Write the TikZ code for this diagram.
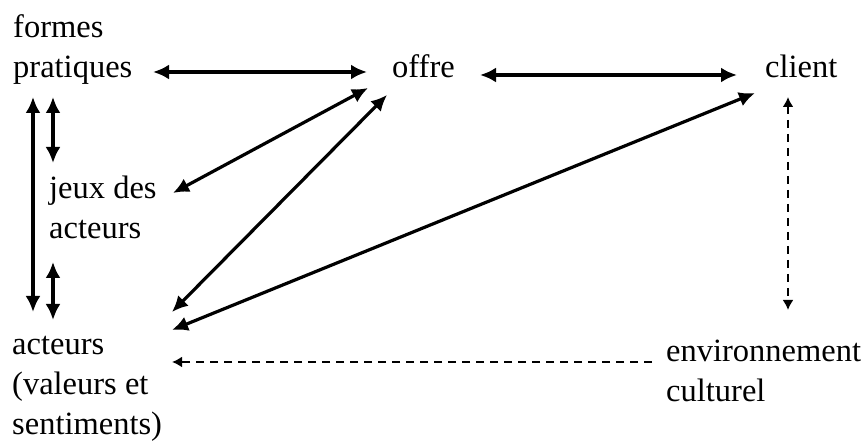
\documentclass[tikz,border=0pt]{standalone}
\usepackage{fontspec}
\setmainfont{Liberation Serif}
\usepackage{tikz}
\usetikzlibrary{positioning,calc}
\usetikzlibrary{arrows.meta}
\tikzset{
	lbl/.style={inner sep=0pt,anchor=base west,align=left,font=\fontsize{32.5}{40}\selectfont},
	link/.style={draw=black,line width=3.2pt,{Latex[length=16pt,width=15pt]}-{Latex[length=16pt,width=15pt]}},
	weak/.style={draw=black,line width=2.2pt,dash pattern=on 8pt off 6pt},
}
\begin{document}
\begin{tikzpicture}[x=1pt,y=1pt]
			\useasboundingbox (0,0) rectangle (862,443);
			\node[lbl] (fp) at (13,365) {formes\\pratiques};
			\node[lbl] (of) at (392,365) {offre};
			\node[lbl] (cl) at (765,365) {client};
			\node[lbl] (jx) at (49,204) {jeux des\\ acteurs};
			\node[lbl] (ac) at (12,8) {acteurs\\(valeurs et\\sentiments)};
			\node[lbl] (en) at (666,41) {environnement\\culturel};
			% liens pleins
			\draw[link] ([shift={(140,6)}]fp.base west) -- ([shift={(-25,6)}]of.base west);
			\draw[link] ([shift={(88,3)}]of.base west) -- ([shift={(-28,3)}]cl.base west);
			\draw[link] ([shift={(-24,-10)}]of.base west) -- ([shift={(124,46)}]jx.base west);
			\draw[link] ([shift={(-5,-17)}]of.base west) -- ([shift={(160,123)}]ac.base west);
			\draw[link] ([shift={(-10,-15)}]cl.base west) -- ([shift={(160,105)}]ac.base west);
			\draw[link] ([shift={(20,-19)}]fp.base west) -- ([shift={(21,123)}]ac.base west);
			\draw[link] ([shift={(40,-19)}]fp.base west) -- ([shift={(4,76)}]jx.base west);
			\draw[link] ([shift={(4,-23)}]jx.base west) -- ([shift={(41,115)}]ac.base west);
			% liens en pointill\'es
			\draw[weak,{Latex[length=10pt,width=11pt]}-{Latex[length=10pt,width=11pt]}] ([shift={(23,-19)}]cl.base west) -- ([shift={(122,92)}]en.base west);
			\draw[weak,-{Latex[length=10pt,width=11pt]}] ([shift={(-14,40)}]en.base west) -- ([shift={(160,73)}]ac.base west);
		\end{tikzpicture}
\end{document}
